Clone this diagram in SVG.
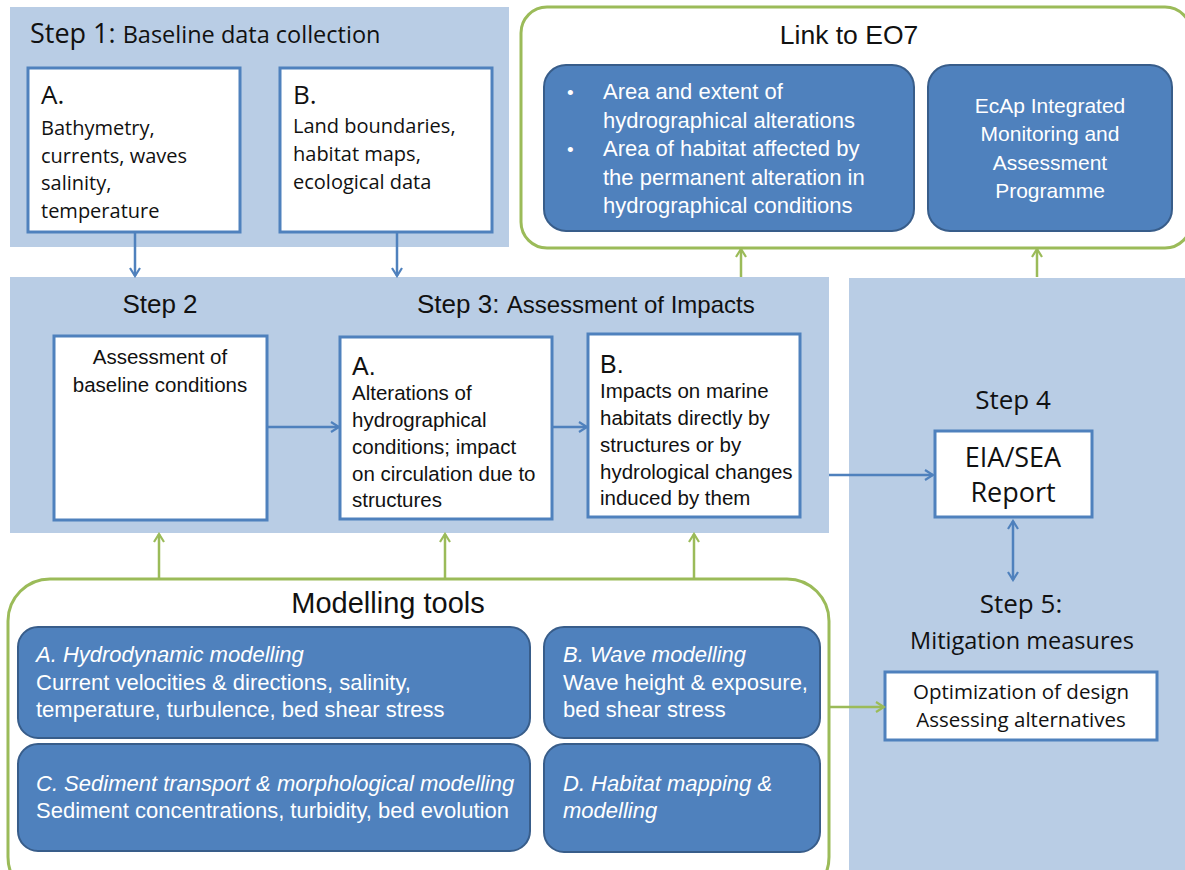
<svg xmlns="http://www.w3.org/2000/svg" width="1185" height="870" viewBox="0 0 1185 870">
<defs>
<marker id="ab" viewBox="0 0 12 12" refX="10" refY="6" markerWidth="12" markerHeight="12" markerUnits="userSpaceOnUse" orient="auto-start-reverse">
<path d="M2,1 L10,6 L2,11" fill="none" stroke="#4F81BD" stroke-width="2.2"/>
</marker>
<marker id="ag" viewBox="0 0 12 12" refX="10" refY="6" markerWidth="12" markerHeight="12" markerUnits="userSpaceOnUse" orient="auto-start-reverse">
<path d="M2,1 L10,6 L2,11" fill="none" stroke="#9BBB59" stroke-width="2.2"/>
</marker>
<style>
.panel{fill:#B9CDE5}
.wbox{fill:#fff;stroke:#4F81BD;stroke-width:3}
.dbox{fill:#4F81BD;stroke:#385D8A;stroke-width:2}
.gcont{fill:#fff;stroke:#9BBB59;stroke-width:3}
.os{font-family:"Open Sans","Noto Sans",sans-serif;fill:#111}
.cb{font-family:"Liberation Sans",Arial,sans-serif;fill:#111}
.wt{font-family:"Liberation Sans",Arial,sans-serif;fill:#fff}
.it{font-style:italic}
.bl{stroke:#4F81BD;stroke-width:2.5;fill:none}
.gl{stroke:#9BBB59;stroke-width:2.5;fill:none}
</style>
</defs>

<!-- panels -->
<g id="step1-panel">
<rect class="panel" x="10" y="7" width="499" height="240"/>
<text class="os" x="30" y="43" font-size="27">Step 1: <tspan font-size="23.5">Baseline data collection</tspan></text>
</g>
<g id="step23-panel">
<rect class="panel" x="10" y="277" width="819" height="256"/>
<text class="cb" x="160" y="313" font-size="26" text-anchor="middle">Step 2</text>
<text class="cb" x="417" y="313" font-size="26">Step 3: <tspan font-size="24">Assessment of Impacts</tspan></text>
</g>
<g id="step45-panel">
<rect class="panel" x="849" y="278" width="336" height="592"/>
<text class="os" x="1013" y="409" font-size="26" text-anchor="middle">Step 4</text>
<text class="os" x="1021" y="613" font-size="26" text-anchor="middle">Step 5:</text>
<text class="os" x="1022" y="649" font-size="23.5" text-anchor="middle">Mitigation measures</text>
</g>

<!-- Step 1 boxes -->
<g id="s1a">
<rect class="wbox" x="28" y="68" width="212" height="164"/>
<text class="os" x="41" y="104" font-size="26">A.</text>
<text class="os" font-size="20"><tspan x="41" y="135">Bathymetry,</tspan><tspan x="41" y="163">currents, waves</tspan><tspan x="41" y="190">salinity,</tspan><tspan x="41" y="218">temperature</tspan></text>
</g>
<g id="s1b">
<rect class="wbox" x="280" y="68" width="212" height="164"/>
<text class="os" x="293" y="104" font-size="26">B.</text>
<text class="os" font-size="20"><tspan x="293" y="133">Land boundaries,</tspan><tspan x="293" y="161">habitat maps,</tspan><tspan x="293" y="189">ecological data</tspan></text>
</g>

<!-- Link to EO7 -->
<g id="eo7">
<rect class="gcont" x="521" y="7" width="670" height="241" rx="26"/>
<text class="cb" x="849" y="44" font-size="26.5" text-anchor="middle">Link to EO7</text>
</g>
<g id="eo7-indicators">
<rect class="dbox" x="544" y="65" width="370" height="166" rx="22"/>
<text class="wt" font-size="22"><tspan x="567" y="99" font-size="19">•</tspan><tspan x="603" y="99">Area and extent of</tspan><tspan x="603" y="128">hydrographical alterations</tspan><tspan x="567" y="156" font-size="19">•</tspan><tspan x="603" y="156">Area of habitat affected by</tspan><tspan x="603" y="185">the permanent alteration in</tspan><tspan x="603" y="213">hydrographical conditions</tspan></text>
</g>
<g id="ecap">
<rect class="dbox" x="928" y="65" width="244" height="166" rx="22"/>
<text class="wt" font-size="21" text-anchor="middle"><tspan x="1050" y="113">EcAp Integrated</tspan><tspan x="1050" y="141">Monitoring and</tspan><tspan x="1050" y="170">Assessment</tspan><tspan x="1050" y="198">Programme</tspan></text>
</g>

<!-- Step 2 / 3 boxes -->
<g id="s2">
<rect class="wbox" x="54" y="336" width="213" height="184"/>
<text class="cb" font-size="20.5" text-anchor="middle"><tspan x="160" y="364">Assessment of</tspan><tspan x="160" y="392">baseline conditions</tspan></text>
</g>
<g id="s3a">
<rect class="wbox" x="340" y="337" width="212" height="182"/>
<text class="cb" x="352" y="375" font-size="25">A.</text>
<text class="cb" font-size="20.5"><tspan x="352" y="400">Alterations of</tspan><tspan x="352" y="427">hydrographical</tspan><tspan x="352" y="454">conditions; impact</tspan><tspan x="352" y="481">on circulation due to</tspan><tspan x="352" y="507">structures</tspan></text>
</g>
<g id="s3b">
<rect class="wbox" x="588" y="334" width="212" height="183"/>
<text class="cb" x="600" y="373" font-size="25">B.</text>
<text class="cb" font-size="20.5"><tspan x="600" y="398">Impacts on marine</tspan><tspan x="600" y="425">habitats directly by</tspan><tspan x="600" y="452">structures or by</tspan><tspan x="600" y="479">hydrological changes</tspan><tspan x="600" y="505">induced by them</tspan></text>
</g>

<!-- Step 4 / 5 boxes -->
<g id="eia">
<rect class="wbox" x="935" y="431" width="157" height="86"/>
<text class="os" font-size="27" text-anchor="middle"><tspan x="1013" y="467">EIA/SEA</tspan><tspan x="1013" y="502">Report</tspan></text>
</g>
<g id="mitig">
<rect class="wbox" x="885" y="672" width="272" height="68"/>
<text class="os" font-size="20.5" text-anchor="middle"><tspan x="1021" y="699">Optimization of design</tspan><tspan x="1021" y="727">Assessing alternatives</tspan></text>
</g>

<!-- Modelling tools -->
<g id="modelling">
<rect class="gcont" x="8" y="579" width="821" height="320" rx="42"/>
<text class="cb" x="388" y="613" font-size="29" text-anchor="middle">Modelling tools</text>
</g>
<g id="mA">
<rect class="dbox" x="18" y="627" width="512" height="111" rx="20"/>
<text class="wt it" x="36" y="662" font-size="22">A. Hydrodynamic modelling</text>
<text class="wt" font-size="22"><tspan x="36" y="690">Current velocities &amp; directions, salinity,</tspan><tspan x="36" y="717">temperature, turbulence, bed shear stress</tspan></text>
</g>
<g id="mB">
<rect class="dbox" x="544" y="627" width="276" height="111" rx="20"/>
<text class="wt it" x="563" y="662" font-size="22">B. Wave modelling</text>
<text class="wt" font-size="22"><tspan x="563" y="690">Wave height &amp; exposure,</tspan><tspan x="563" y="717">bed shear stress</tspan></text>
</g>
<g id="mC">
<rect class="dbox" x="18" y="744" width="512" height="107" rx="20"/>
<text class="wt it" x="36" y="791" font-size="22">C. Sediment transport &amp; morphological modelling</text>
<text class="wt" x="36" y="818" font-size="22">Sediment concentrations, turbidity, bed evolution</text>
</g>
<g id="mD">
<rect class="dbox" x="544" y="744" width="276" height="108" rx="20"/>
<text class="wt it" font-size="22"><tspan x="563" y="791">D. Habitat mapping &amp;</tspan><tspan x="563" y="818">modelling</tspan></text>
</g>

<!-- connectors -->
<g id="connectors">
<line class="bl" x1="135" y1="232" x2="135" y2="276" marker-end="url(#ab)"/>
<line class="bl" x1="397" y1="232" x2="397" y2="276" marker-end="url(#ab)"/>
<line class="bl" x1="267" y1="427" x2="339" y2="427" marker-end="url(#ab)"/>
<line class="bl" x1="552" y1="427" x2="587" y2="427" marker-end="url(#ab)"/>
<line class="bl" x1="829" y1="475" x2="933" y2="475" marker-end="url(#ab)"/>
<line class="bl" x1="1013" y1="521" x2="1013" y2="580" marker-start="url(#ab)" marker-end="url(#ab)"/>
<line class="gl" x1="741" y1="277" x2="741" y2="249" marker-end="url(#ag)"/>
<line class="gl" x1="1037" y1="277" x2="1037" y2="249" marker-end="url(#ag)"/>
<line class="gl" x1="159" y1="579" x2="159" y2="534" marker-end="url(#ag)"/>
<line class="gl" x1="445" y1="579" x2="445" y2="534" marker-end="url(#ag)"/>
<line class="gl" x1="694" y1="579" x2="694" y2="534" marker-end="url(#ag)"/>
<line class="gl" x1="829" y1="707" x2="884" y2="707" marker-end="url(#ag)"/>
</g>
</svg>
